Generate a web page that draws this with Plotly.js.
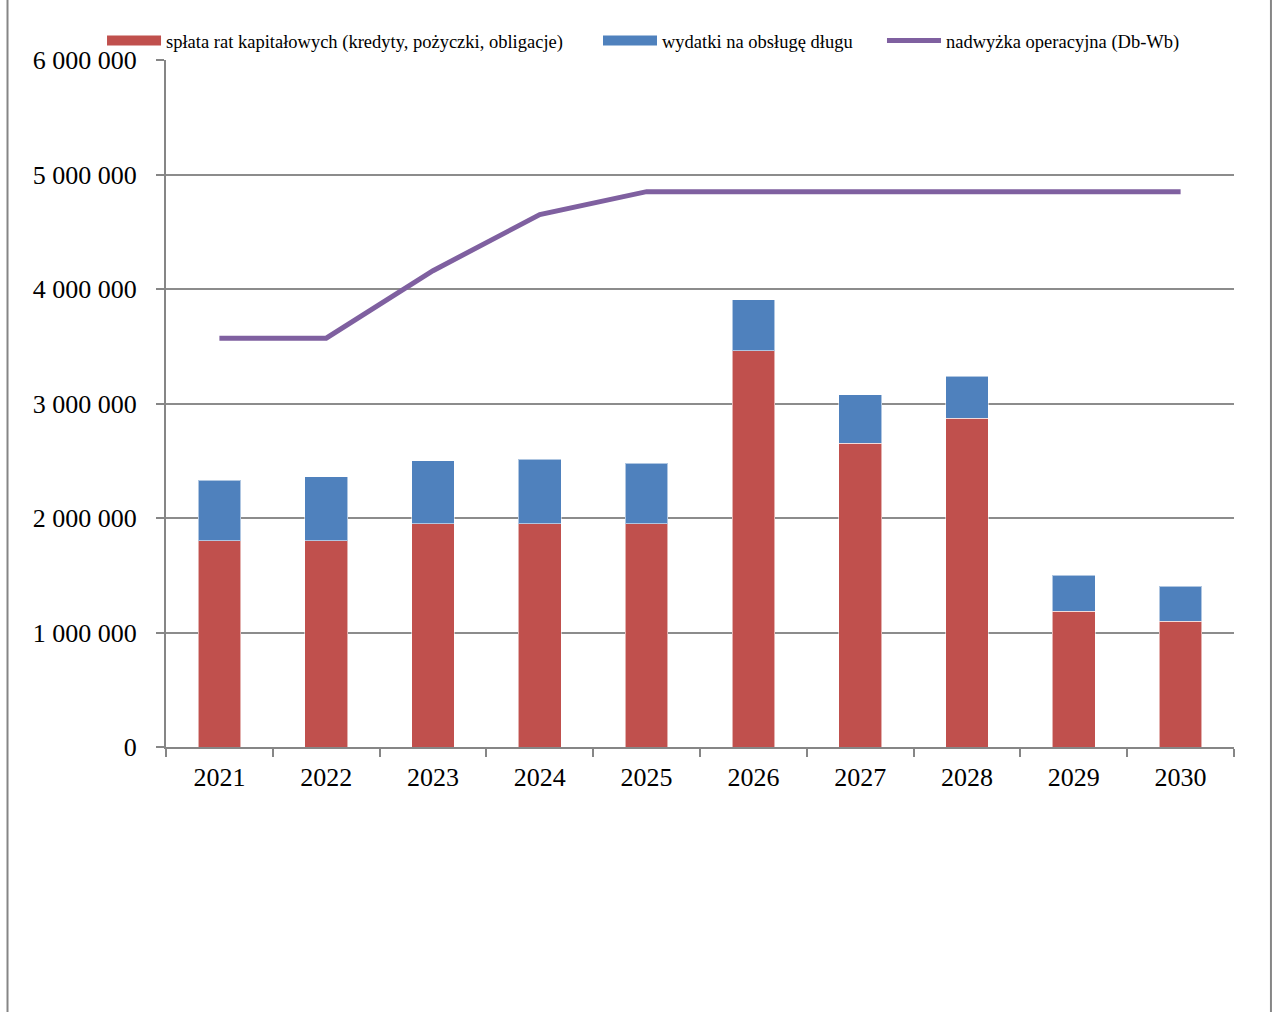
<!DOCTYPE html>
<html>
<head>
<meta charset="utf-8">
<script src="https://cdn.plot.ly/plotly-3.0.1.min.js"></script>
<style>html,body{margin:0;padding:0;background:#fff;}#chart{width:1276px;height:1012px;}</style>
</head>
<body>
<div id="chart"></div>
<script>
const years = ["2021","2022","2023","2024","2025","2026","2027","2028","2029","2030"];
const splata = [1800000,1800000,1950000,1950000,1950000,3460000,2655000,2870000,1185000,1100000];
const wydatki = [530000,560000,550000,565000,530000,445000,420000,370000,315000,305000];
const nadwyzka = [3570000,3570000,4160000,4650000,4850000,4850000,4850000,4850000,4850000,4850000];
const seriesNames = ["spłata rat kapitałowych (kredyty, pożyczki, obligacje)","wydatki na obsługę długu","nadwyżka operacyjna (Db-Wb)"];
const yTicks = [0,1000000,2000000,3000000,4000000,5000000,6000000];

const font = "Liberation Serif";
const red = "#C0504D", blue = "#4F81BD", purple = "#7F60A0";
const traces = [
  {type:"bar", name:seriesNames[0], x:years, y:splata, showlegend:false,
   marker:{color:red, line:{color:"rgba(255,255,255,0.55)", width:1}}},
  {type:"bar", name:seriesNames[1], x:years, y:wydatki, showlegend:false,
   marker:{color:blue, line:{color:"rgba(255,255,255,0.55)", width:1}}},
  {type:"scatter", mode:"lines", name:seriesNames[2], x:years, y:nadwyzka, showlegend:false,
   line:{color:purple, width:5}},
  // legend-only entries (wide swatches like the original)
  {type:"scatter", mode:"lines", name:seriesNames[0], x:[null], y:[null], line:{color:red, width:10}, legend:"legend"},
  {type:"scatter", mode:"lines", name:seriesNames[1], x:[null], y:[null], line:{color:blue, width:10}, legend:"legend2"},
  {type:"scatter", mode:"lines", name:seriesNames[2], x:[null], y:[null], line:{color:purple, width:5}, legend:"legend3"}
];
function leg(x){
  return {orientation:"h", x:x, xanchor:"left", y:1.0, yanchor:"bottom",
          bgcolor:"rgba(0,0,0,0)", font:{family:font, size:18.5, color:"#000"}, itemwidth:54};
}
const layout = {
  width:1276, height:1012,
  margin:{l:166, r:42, t:60, b:265},
  paper_bgcolor:"#fff", plot_bgcolor:"#fff",
  barmode:"stack", bargap:0.6,
  separators:", ",
  font:{family:font, color:"#000"},
  showlegend:true,
  legend:leg(-0.0599),
  legend2:leg(0.4045),
  legend3:leg(0.6704),
  xaxis:{type:"category", showgrid:false, showline:true, linecolor:"#868686", linewidth:2,
         ticks:"outside", tickson:"boundaries", ticklen:8, tickcolor:"#868686", tickwidth:2,
         ticklabelstandoff:6,
         tickfont:{family:font, size:26, color:"#000"}, zeroline:false},
  yaxis:{range:[0,6000000], tickvals:yTicks, tickformat:",.0f",
         showgrid:true, gridcolor:"#8c8c8c", gridwidth:2,
         showline:true, linecolor:"#868686", linewidth:2,
         ticks:"outside", ticklen:8, tickcolor:"#868686", tickwidth:2,
         ticklabelstandoff:14,
         tickfont:{family:font, size:26, color:"#000"}, zeroline:false},
  shapes:[
    {type:"line", xref:"paper", yref:"paper", x0:-0.1484, x1:-0.1484, y0:-0.4, y1:1.1, line:{color:"#868686", width:2}},
    {type:"line", xref:"paper", yref:"paper", x0:1.0346, x1:1.0346, y0:-0.4, y1:1.1, line:{color:"#868686", width:2}}
  ]
};
Plotly.newPlot("chart", traces, layout, {displayModeBar:false, staticPlot:true});
</script>
</body>
</html>
